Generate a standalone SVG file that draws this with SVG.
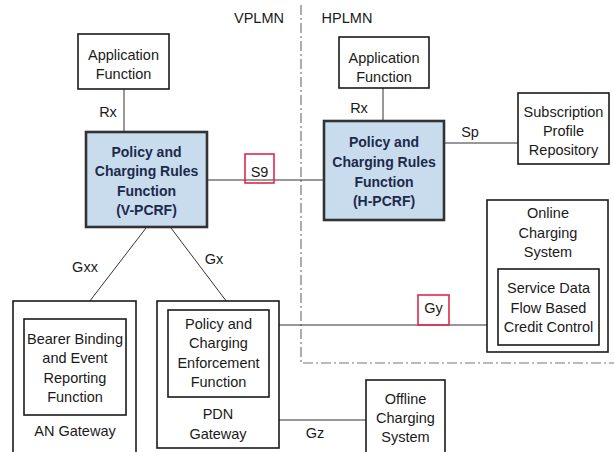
<svg xmlns="http://www.w3.org/2000/svg" width="614" height="452" viewBox="0 0 614 452">
<style>
text{font-family:"Liberation Sans",Arial,sans-serif;font-size:14.5px;fill:#1a1a1a;text-anchor:middle}
.box{fill:#fff;stroke:#1a1a1a;stroke-width:1.6}
.pcrf{fill:#c9dcee;stroke:#333;stroke-width:2.6}
.pt{fill:#1c2a4a;font-weight:bold;font-size:14px}
.ln{stroke:#333;stroke-width:1;fill:none}
.lbl{fill:none;stroke:#e0284a;stroke-width:1.6}
.dd{stroke:#777;stroke-width:1.2;fill:none;stroke-dasharray:10 3 2 3}
</style>
<rect width="614" height="452" fill="#fff"/>
<g id="boundary">
<path class="dd" d="M301 5 V363 H614"/>
<text x="259" y="23">VPLMN</text>
<text x="347" y="23">HPLMN</text>
</g>
<g id="connectors">
<line class="ln" x1="124" y1="89" x2="124" y2="132"/>
<line class="ln" x1="383" y1="88" x2="383" y2="121"/>
<line class="ln" x1="207" y1="180" x2="324" y2="180"/>
<line class="ln" x1="444" y1="143" x2="518" y2="143"/>
<line class="ln" x1="146" y1="228" x2="76" y2="319"/>
<line class="ln" x1="171" y1="228" x2="233" y2="310"/>
<line class="ln" x1="269" y1="325" x2="487" y2="325"/>
<line class="ln" x1="279" y1="420" x2="366" y2="420"/>
<text x="108" y="117">Rx</text>
<text x="359" y="113">Rx</text>
<text x="470" y="137">Sp</text>
<text x="85" y="272">Gxx</text>
<text x="214" y="264">Gx</text>
<text x="315" y="438">Gz</text>
<rect class="lbl" x="245" y="154" width="29" height="29"/>
<text x="259.5" y="177">S9</text>
<rect class="lbl" x="418" y="295" width="31" height="30"/>
<text x="433.5" y="313">Gy</text>
</g>
<g id="af-v">
<rect class="box" x="78" y="34" width="91" height="55"/>
<text x="123.5" y="60">Application</text>
<text x="123.5" y="79">Function</text>
</g>
<g id="af-h">
<rect class="box" x="339" y="37" width="90" height="51"/>
<text x="384" y="63">Application</text>
<text x="384" y="82">Function</text>
</g>
<g id="v-pcrf">
<rect class="pcrf" x="86" y="132" width="121" height="95"/>
<text class="pt" x="146.5" y="157">Policy and</text>
<text class="pt" x="146.5" y="176">Charging Rules</text>
<text class="pt" x="146.5" y="196">Function</text>
<text class="pt" x="146.5" y="215">(V-PCRF)</text>
</g>
<g id="h-pcrf">
<rect class="pcrf" x="324" y="121" width="120" height="99"/>
<text class="pt" x="384" y="147">Policy and</text>
<text class="pt" x="384" y="167">Charging Rules</text>
<text class="pt" x="384" y="187">Function</text>
<text class="pt" x="384" y="206">(H-PCRF)</text>
</g>
<g id="spr">
<rect class="box" x="518" y="93" width="91" height="71"/>
<text x="563.5" y="117">Subscription</text>
<text x="563.5" y="136">Profile</text>
<text x="563.5" y="155">Repository</text>
</g>
<g id="ocs">
<rect class="box" x="487" y="200" width="121" height="152"/>
<text x="548" y="218">Online</text>
<text x="548" y="238">Charging</text>
<text x="548" y="257">System</text>
<rect class="box" x="498" y="269" width="101" height="76"/>
<text x="548.5" y="293">Service Data</text>
<text x="548.5" y="313">Flow Based</text>
<text x="548.5" y="332">Credit Control</text>
</g>
<g id="an-gw">
<rect class="box" x="13" y="301" width="123" height="160"/>
<rect class="box" x="24" y="319" width="102" height="96"/>
<text x="75" y="344">Bearer Binding</text>
<text x="75" y="363">and Event</text>
<text x="75" y="383">Reporting</text>
<text x="75" y="402">Function</text>
<text x="75" y="436">AN Gateway</text>
</g>
<g id="pdn-gw">
<rect class="box" x="157" y="301" width="122" height="147"/>
<rect class="box" x="168" y="310" width="101" height="87"/>
<text x="218.5" y="329">Policy and</text>
<text x="218.5" y="348">Charging</text>
<text x="218.5" y="368">Enforcement</text>
<text x="218.5" y="387">Function</text>
<text x="218" y="419">PDN</text>
<text x="218" y="439">Gateway</text>
</g>
<g id="offcs">
<rect class="box" x="366" y="380" width="79" height="80"/>
<text x="405.5" y="404">Offline</text>
<text x="405.5" y="423">Charging</text>
<text x="405.5" y="442">System</text>
</g>
</svg>
